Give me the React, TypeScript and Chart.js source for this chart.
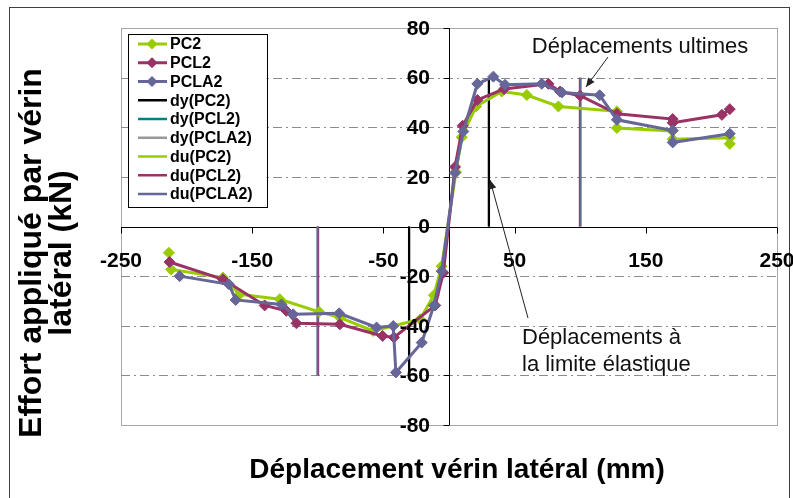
import React, { useEffect, useRef } from "react";
import { Chart, registerables } from "chart.js";

Chart.register(...registerables);

// ---- Data ----
const pc2X = [-213.5, -211.7, -172.3, -159.5, -129, -99, -83, -57.8, -22, -11.5, -5.6, 5.3, 9.7, 20.6, 40.2, 59.3, 83.4, 128, 128, 170.5, 170.5, 214, 214];
const pc2Y = [-10.6, -17.3, -20.6, -27.3, -29.3, -34.4, -36.7, -42.1, -37.4, -27.7, -16, 22, 36, 48.4, 54.4, 53, 48.4, 46.4, 39.7, 38.5, 35.2, 35.8, 33.3];

const pcl2X = [-213, -172.3, -140.5, -124, -116.3, -83.2, -50.6, -42, -10.5, -4.3, 4.6, 10.4, 21.6, 42, 75.8, 84.7, 100, 128, 170.5, 170.5, 208, 214];
const pcl2Y = [-14.3, -21.3, -31.8, -34, -39, -39.4, -44.1, -44.7, -31.8, -18.6, 24, 40.6, 51, 55.4, 57.5, 54.4, 52.7, 45.4, 43.3, 41.8, 45, 47.3];

const pcla2X = [-205.3, -167.7, -162.6, -127.7, -118.8, -83.7, -55.2, -42.5, -40.5, -20.8, -11.5, -5.6, 4.6, 10.9, 21.6, 33.8, 42.7, 70.7, 86, 114.8, 128, 170.5, 170.5, 214];
const pcla2Y = [-20, -23.3, -29.6, -31.4, -35.4, -35, -40.7, -40.1, -58.8, -46.8, -31.8, -18, 21.6, 38.3, 57.5, 60.4, 57.1, 57.5, 54, 52.9, 43, 38.7, 33.9, 37.4];

// limit displacements (dy) and ultimate displacements (du) for PC2, PCL2, PCLA2
const dyValues = [30.5, 30.5, 30];
const duValues = [100, 99.7, 100.3];
const markerTop = 60;
const markerBottom = -60;

const seriesNames = ["PC2", "PCL2", "PCLA2"];
const seriesColors = ["#99CC00", "#993366", "#666699"];
const dyColors = ["#000000", "#008080", "#999999"];
const duColors = ["#99CC00", "#993366", "#666699"];

const xTickValues = [-250, -150, -50, 50, 150, 250];
const yTickValues = [-80, -60, -40, -20, 0, 20, 40, 60, 80];
const gridValues = [-60, -40, -20, 20, 40, 60];

const xTitle = "Déplacement vérin latéral (mm)";
const yTitleLines = ["Effort appliqué par vérin", "latéral (kN)"];
const noteUltimate = "Déplacements ultimes";
const noteElastic = ["Déplacements à", "la limite élastique"];

const FONT = '"Liberation Sans", Arial, Helvetica, sans-serif';

function zip(xs: number[], ys: number[]) {
  return xs.map((x, i) => ({ x, y: ys[i] }));
}

function vline(v: number) {
  return [
    { x: -v, y: markerBottom },
    { x: -v, y: 0 },
    { x: 0, y: null as any },
    { x: v, y: 0 },
    { x: v, y: markerTop },
  ];
}

function arrow(ctx: CanvasRenderingContext2D, x1: number, y1: number, x2: number, y2: number) {
  ctx.save();
  ctx.strokeStyle = "#222";
  ctx.fillStyle = "#222";
  ctx.lineWidth = 1;
  ctx.beginPath();
  ctx.moveTo(x1, y1);
  ctx.lineTo(x2, y2);
  ctx.stroke();
  const a = Math.atan2(y2 - y1, x2 - x1);
  const len = 9;
  const w = 4;
  ctx.beginPath();
  ctx.moveTo(x2, y2);
  ctx.lineTo(x2 - len * Math.cos(a) + w * Math.sin(a), y2 - len * Math.sin(a) - w * Math.cos(a));
  ctx.lineTo(x2 - len * Math.cos(a) - w * Math.sin(a), y2 - len * Math.sin(a) + w * Math.cos(a));
  ctx.closePath();
  ctx.fill();
  ctx.restore();
}

const decorPlugin = {
  id: "decor",
  beforeDraw(chart: any) {
    const ctx: CanvasRenderingContext2D = chart.ctx;
    const { left, right, top, bottom } = chart.chartArea;
    ctx.save();
    ctx.fillStyle = "#ffffff";
    ctx.fillRect(0, 0, chart.width, chart.height);
    // outer frame
    ctx.strokeStyle = "#404040";
    ctx.lineWidth = 1;
    ctx.strokeRect(9.5, 7.5, 780, 520);
    // plot border
    ctx.strokeStyle = "#a6a6a6";
    ctx.strokeRect(left + 0.5, top + 0.5, right - left, bottom - top);
    // gridlines
    const ys = chart.scales.y;
    ctx.strokeStyle = "#8c8c8c";
    ctx.setLineDash([9, 4, 2, 4]);
    gridValues.forEach((v) => {
      const py = Math.round(ys.getPixelForValue(v)) + 0.5;
      ctx.beginPath();
      ctx.moveTo(left, py);
      ctx.lineTo(right, py);
      ctx.stroke();
    });
    ctx.setLineDash([]);
    ctx.restore();
  },
  beforeDatasetsDraw(chart: any) {
    const ctx: CanvasRenderingContext2D = chart.ctx;
    const { left, right, top, bottom } = chart.chartArea;
    const xs = chart.scales.x;
    const ys = chart.scales.y;
    const x0 = Math.round(xs.getPixelForValue(0)) + 0.5;
    const y0 = Math.round(ys.getPixelForValue(0)) + 0.5;
    ctx.save();
    ctx.strokeStyle = "#000";
    ctx.lineWidth = 1;
    ctx.beginPath();
    ctx.moveTo(left, y0);
    ctx.lineTo(right, y0);
    ctx.moveTo(x0, top);
    ctx.lineTo(x0, bottom);
    xTickValues.forEach((v) => {
      const px = Math.round(xs.getPixelForValue(v)) + 0.5;
      ctx.moveTo(px, y0);
      ctx.lineTo(px, y0 + 6);
    });
    yTickValues.forEach((v) => {
      const py = Math.round(ys.getPixelForValue(v)) + 0.5;
      ctx.moveTo(x0 - 6, py);
      ctx.lineTo(x0, py);
    });
    ctx.stroke();
    ctx.restore();
  },
  afterDraw(chart: any) {
    const ctx: CanvasRenderingContext2D = chart.ctx;
    const xs = chart.scales.x;
    const ys = chart.scales.y;
    const x0 = xs.getPixelForValue(0);
    const y0 = ys.getPixelForValue(0);
    ctx.save();
    ctx.fillStyle = "#000";
    // tick labels
    ctx.font = `bold 21px ${FONT}`;
    ctx.textAlign = "right";
    ctx.textBaseline = "middle";
    yTickValues.forEach((v) => {
      ctx.fillText(String(v), x0 - 19, ys.getPixelForValue(v) + 1);
    });
    ctx.textAlign = "center";
    xTickValues.forEach((v) => {
      ctx.fillText(String(v), xs.getPixelForValue(v), y0 + 35);
    });
    // axis titles
    ctx.font = `bold 28px ${FONT}`;
    ctx.fillText(xTitle, 457, 470);
    ctx.save();
    ctx.translate(32, 253);
    ctx.rotate(-Math.PI / 2);
    ctx.font = `bold 32px ${FONT}`;
    ctx.fillText(yTitleLines[0], 0, 0);
    ctx.fillText(yTitleLines[1], 0, 30);
    ctx.restore();

    // annotations
    ctx.font = `22px ${FONT}`;
    ctx.fillStyle = "#111";
    ctx.textAlign = "center";
    ctx.fillText(noteUltimate, 640, 47);
    ctx.textAlign = "left";
    ctx.fillText(noteElastic[0], 522, 338);
    ctx.fillText(noteElastic[1], 522, 365);
    arrow(ctx, 608, 57, 586, 87);
    arrow(ctx, 528, 318, 490, 180);

    // legend
    const lx = 128.5, ly = 34.5, lw = 139, lh = 173;
    ctx.fillStyle = "#fff";
    ctx.fillRect(lx, ly, lw, lh);
    ctx.strokeStyle = "#000";
    ctx.lineWidth = 1;
    ctx.strokeRect(lx, ly, lw, lh);
    const entries: { label: string; color: string; marker: boolean; width: number }[] = [];
    seriesNames.forEach((n, i) => entries.push({ label: n, color: seriesColors[i], marker: true, width: 3 }));
    seriesNames.forEach((n, i) => entries.push({ label: `dy(${n})`, color: dyColors[i], marker: false, width: 2.5 }));
    seriesNames.forEach((n, i) => entries.push({ label: `du(${n})`, color: duColors[i], marker: false, width: 2.5 }));
    ctx.font = `bold 16px ${FONT}`;
    ctx.textBaseline = "middle";
    entries.forEach((e, i) => {
      const cy = 44 + i * 18.75;
      ctx.strokeStyle = e.color;
      ctx.lineWidth = e.width;
      ctx.beginPath();
      ctx.moveTo(138, cy);
      ctx.lineTo(167, cy);
      ctx.stroke();
      if (e.marker) {
        ctx.fillStyle = e.color;
        ctx.beginPath();
        ctx.moveTo(152, cy - 5.5);
        ctx.lineTo(157.5, cy);
        ctx.lineTo(152, cy + 5.5);
        ctx.lineTo(146.5, cy);
        ctx.closePath();
        ctx.fill();
      }
      ctx.fillStyle = "#000";
      ctx.textAlign = "left";
      ctx.fillText(e.label, 170, cy + 1);
    });
    ctx.restore();
  },
};

export default function App() {
  const ref = useRef<HTMLCanvasElement | null>(null);
  useEffect(() => {
    if (!ref.current) return;
    const seriesData = [zip(pc2X, pc2Y), zip(pcl2X, pcl2Y), zip(pcla2X, pcla2Y)];
    const datasets: any[] = [];
    seriesNames.forEach((n, i) => {
      datasets.push({
        label: n,
        data: seriesData[i],
        showLine: true,
        borderColor: seriesColors[i],
        backgroundColor: seriesColors[i],
        borderWidth: 3,
        pointStyle: "rectRot",
        pointRadius: 5.5,
        pointBorderWidth: 1,
        pointBackgroundColor: seriesColors[i],
        pointBorderColor: seriesColors[i],
        order: 3 - i,
      });
    });
    seriesNames.forEach((n, i) => {
      datasets.push({
        label: `dy(${n})`,
        data: vline(dyValues[i]),
        showLine: true,
        spanGaps: false,
        borderColor: dyColors[i],
        borderWidth: 2,
        pointRadius: 0,
        order: 8 + i,
      });
    });
    seriesNames.forEach((n, i) => {
      datasets.push({
        label: `du(${n})`,
        data: vline(duValues[i]),
        showLine: true,
        spanGaps: false,
        borderColor: duColors[i],
        borderWidth: 2,
        pointRadius: 0,
        order: 20 - i,
      });
    });
    const chart = new Chart(ref.current, {
      type: "scatter",
      data: { datasets },
      options: {
        animation: false,
        responsive: false,
        devicePixelRatio: 1,
        layout: { padding: { left: 121, right: 16, top: 28, bottom: 73 } },
        scales: {
          x: { type: "linear", min: -250, max: 250, display: false },
          y: { type: "linear", min: -80, max: 80, display: false },
        },
        plugins: {
          legend: { display: false },
          tooltip: { enabled: false },
        },
        elements: { line: { tension: 0 } },
      },
      plugins: [decorPlugin],
    });
    return () => chart.destroy();
  }, []);
  return (
    <div style={{ position: "fixed", left: 0, top: 0, width: 793, height: 498, background: "#fff" }}>
      <canvas ref={ref} width={793} height={498} style={{ display: "block", width: 793, height: 498 }} />
    </div>
  );
}
